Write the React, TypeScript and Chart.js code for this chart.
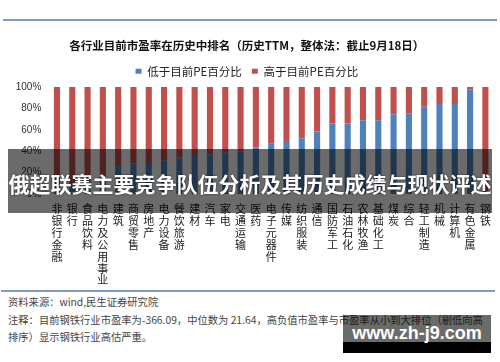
import { useEffect, useRef } from 'react';
import { Chart, registerables } from 'chart.js';

Chart.register(...registerables);

const categories = [
  '非银行金融', '银行', '食品饮料', '电力及公用事业', '建筑', '商贸零售', '房地产', '电力设备',
  '餐饮旅游', '建材', '汽车', '家电', '交通运输', '医药', '电子元器件', '传媒', '纺织服装',
  '通信', '国防军工', '石油石化', '农林牧渔', '基础化工', '煤炭', '综合', '轻工制造', '机械',
  '计算机', '有色金属', '钢铁',
];

const lowerPct = [5, 8, 12, 16, 26, 28.5, 29, 31, 34, 35.5, 37, 39, 40, 43.5, 47, 49.5, 52, 58.5, 66, 66, 69, 69, 74.5, 75.5, 81.5, 84, 84, 98, 0];
const higherPct = [95, 92, 88, 84, 74, 71.5, 71, 69, 66, 64.5, 63, 61, 60, 56.5, 53, 50.5, 48, 41.5, 34, 34, 31, 31, 25.5, 24.5, 18.5, 16, 16, 2, 100];

const seriesNames = ['低于目前PE百分比', '高于目前PE百分比'];
const chartTitle = '各行业目前市盈率在历史中排名（历史TTM，整体法：截止9月18日）';
const bannerText = '俄超联赛主要竞争队伍分析及其历史成绩与现状评述';
const sourceText = '资料来源：wind,民生证券研究院';
const noteLine1 = '注释：目前钢铁行业市盈率为-366.09，中位数为 21.64，高负值市盈率与市盈率从小到大排位（剔低向高';
const noteLine2 = '排序）显示钢铁行业高估严重。';
const watermark = 'www.zh-j9.com';

const CJK = '"Noto Sans CJK SC", sans-serif';

export default function App() {
  const ref = useRef<HTMLCanvasElement | null>(null);

  useEffect(() => {
    if (!ref.current) return;
    const chart = new Chart(ref.current, {
      type: 'bar',
      data: {
        labels: categories,
        datasets: [
          { label: seriesNames[0], data: lowerPct, backgroundColor: '#4f81bd', barPercentage: 0.4, categoryPercentage: 1 },
          { label: seriesNames[1], data: higherPct, backgroundColor: '#c0504d', barPercentage: 0.4, categoryPercentage: 1 },
        ],
      },
      options: {
        responsive: false,
        animation: false,
        layout: { padding: { top: 20, left: 0, right: 6.3, bottom: 0 } },
        plugins: {
          title: {
            display: true,
            text: chartTitle,
            color: '#111',
            font: { family: CJK, size: 11.5, weight: 'bold' },
            padding: { top: 11, bottom: 2.5 },
          },
          legend: {
            display: true,
            position: 'top',
            labels: {
              boxWidth: 6,
              boxHeight: 5,
              color: '#222',
              font: { family: CJK, size: 11.5 },
              padding: 10,
            },
          },
          tooltip: { enabled: false },
        },
        scales: {
          x: {
            stacked: true,
            grid: { display: false, drawTicks: false },
            border: { display: false },
            ticks: {
              autoSkip: false,
              maxRotation: 0,
              minRotation: 0,
              padding: 9,
              color: '#222',
              font: { family: CJK, size: 11, lineHeight: 1.08 },
              callback: (_v: any, i: number) => categories[i].split(''),
            },
            afterFit: (s: any) => { s.height = 96; },
          },
          y: {
            stacked: true,
            min: 0,
            max: 100,
            grid: { display: false, drawTicks: false },
            border: { display: false },
            ticks: {
              stepSize: 10,
              padding: 8,
              color: '#333',
              font: { family: '"Liberation Sans", Arial, sans-serif', size: 10 },
              callback: (v: any) => v + '%',
            },
            afterFit: (s: any) => { s.width = 49.3; s.paddingTop = 87; },
          },
        },
      },
    });
    return () => chart.destroy();
  }, []);

  return (
    <div style={{ position: 'absolute', left: 0, top: 0, width: 500, height: 362, background: '#fff', overflow: 'hidden' }}>
      <div style={{ position: 'absolute', left: 3, top: 19, width: 494, height: 1.5, background: '#7f9cc0' }} />
      <canvas ref={ref} width={500} height={290} style={{ position: 'absolute', left: 0, top: 0, width: 500, height: 290 }} />
      <div style={{ position: 'absolute', left: 1, top: 290, width: 494, height: 1.5, background: '#7f9cc0' }} />
      <div style={{ position: 'absolute', left: 8, top: 149, width: 484, height: 64, background: 'rgba(0,0,0,0.58)' }} />
      <div style={{ position: 'absolute', left: 0, top: 168, width: 500, height: 30, lineHeight: '30px', textAlign: 'center', color: '#fff', fontFamily: CJK, fontWeight: 'bold', fontSize: 21, whiteSpace: 'nowrap', textShadow: '0 0 2px rgba(0,0,0,0.8)' }}>{bannerText}</div>
      <div style={{ position: 'absolute', left: 8, top: 293, color: '#444', fontFamily: CJK, fontSize: 10.3, lineHeight: '17.5px', whiteSpace: 'nowrap' }}>
        <div>{sourceText}</div>
        <div>{noteLine1}</div>
        <div>{noteLine2}</div>
      </div>
      <div style={{ position: 'absolute', left: 343, top: 315, width: 148, height: 27, background: 'rgba(0,0,0,0.58)' }} />
      <div style={{ position: 'absolute', left: 343, top: 342, width: 148, height: 11, background: '#000' }} />
      <div style={{ position: 'absolute', left: 343, top: 322, width: 148, height: 22, lineHeight: '22px', textAlign: 'center', color: '#fff', fontFamily: '"Liberation Sans", Arial, sans-serif', fontWeight: 'bold', fontSize: 18, whiteSpace: 'nowrap' }}>{watermark}</div>
    </div>
  );
}
